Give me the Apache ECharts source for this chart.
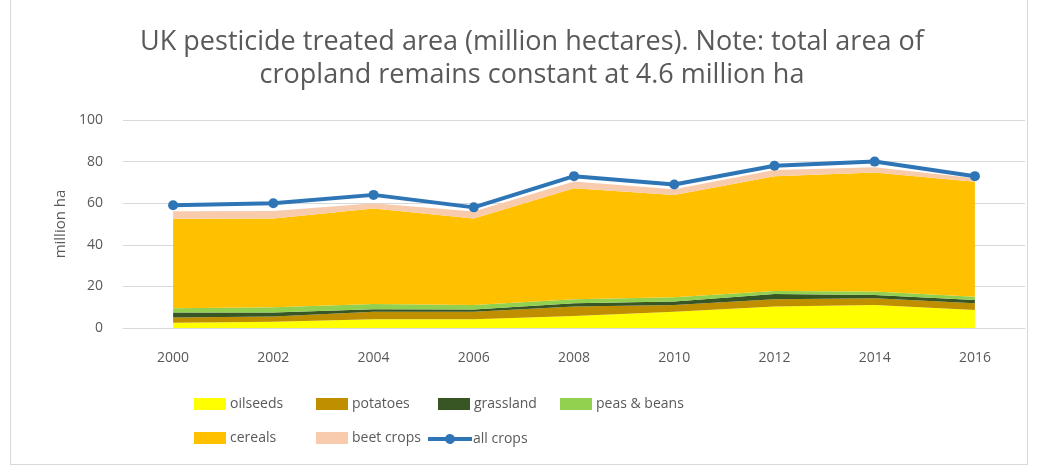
<!DOCTYPE html>
<html>
<head>
<meta charset="utf-8">
<script src="https://cdn.jsdelivr.net/npm/echarts@6/dist/echarts.min.js"></script>
<style>
  html, body { margin: 0; padding: 0; background: #fff; }
  #frame { position: absolute; left: 10px; top: -1px; width: 1018px; height: 466px; border: 1px solid #d9d9d9; box-sizing: border-box; }
  #chart { position: absolute; left: 0; top: 0; width: 1038px; height: 465px; }
</style>
</head>
<body>
<div id="frame"></div>
<div id="chart"></div>
<script>
const years = ['2000', '2002', '2004', '2006', '2008', '2010', '2012', '2014', '2016'];
const oilseeds = [2.5, 3.0, 4.2, 4.2, 5.8, 7.8, 10.3, 11.0, 8.7];
const potatoes = [2.6, 2.5, 3.6, 3.6, 4.5, 3.2, 3.5, 3.3, 3.2];
const grassland = [2.4, 1.9, 1.2, 1.1, 1.6, 1.7, 2.5, 1.6, 1.6];
const peasBeans = [2.0, 2.6, 2.5, 2.1, 1.9, 2.1, 1.5, 1.6, 1.5];
const cereals = [43.0, 42.7, 46.0, 41.7, 53.4, 49.2, 55.2, 57.2, 55.3];
const beetCrops = [3.6, 3.6, 2.5, 3.3, 3.2, 2.7, 3.0, 2.6, 1.7];
const allCrops = [59, 60, 64, 58, 73, 69, 78, 80, 73];
const yTicks = [0, 20, 40, 60, 80, 100];

const FONT = '"Open Sans", "Noto Sans", sans-serif';
const GREY = '#595959';

const areaNames = ['oilseeds', 'potatoes', 'grassland', 'peas & beans', 'cereals', 'beet crops'];
const areaData = [oilseeds, potatoes, grassland, peasBeans, cereals, beetCrops];
const areaColors = ['#FFFF00', '#BF8F00', '#375623', '#92D050', '#FFC000', '#F8CBAD'];

const series = areaNames.map((n, i) => ({
  name: n,
  type: 'line',
  stack: 'total',
  data: areaData[i],
  symbol: 'none',
  lineStyle: { width: 0 },
  areaStyle: { color: areaColors[i], opacity: 1 },
  itemStyle: { color: areaColors[i] },
  emphasis: { disabled: true },
  z: 2
}));
series.push({
  name: 'all crops',
  type: 'line',
  data: allCrops,
  symbol: 'circle',
  symbolSize: 10,
  lineStyle: { width: 4, color: '#2E75B6' },
  itemStyle: { color: '#2E75B6' },
  z: 5
});

const lineIcon = 'path://M0,4 L17.42,4 A5,5 0 0,1 26.58,4 L44,4 L44,8 L26.58,8 A5,5 0 0,1 17.42,8 L0,8 Z';
const legendPos = [
  ['oilseeds', 194, 397], ['potatoes', 316, 397], ['grassland', 438, 397], ['peas & beans', 560, 397],
  ['cereals', 194, 431], ['beet crops', 316, 431], ['all crops', 428, 432]
];
const legends = legendPos.map(([n, x, y]) => ({
  data: [n === 'all crops' ? { name: n, icon: lineIcon } : { name: n, icon: 'rect' }],
  left: x,
  top: y,
  padding: 0,
  itemWidth: n === 'all crops' ? 44 : 32,
  itemHeight: n === 'all crops' ? 10 : 12,
  itemGap: 0,
  selectedMode: false,
  textStyle: { color: GREY, fontSize: 14, fontFamily: FONT, padding: [0, 0, 0, n === 'all crops' ? -4 : -1] }
}));

const chart = echarts.init(document.getElementById('chart'), null, { renderer: 'canvas' });
chart.setOption({
  animation: false,
  backgroundColor: 'transparent',
  title: {
    text: 'UK pesticide treated area (million hectares). Note: total area of\ncropland remains constant at 4.6 million ha',
    left: 532,
    textAlign: 'center',
    top: 26,
    padding: 0,
    textStyle: { color: GREY, fontSize: 27, fontWeight: 'normal', fontFamily: FONT, lineHeight: 33 }
  },
  legend: legends,
  grid: { left: 123, right: 13, top: 120, bottom: 137, containLabel: false },
  xAxis: {
    type: 'category',
    data: years,
    boundaryGap: true,
    axisLine: { show: true, lineStyle: { color: '#d9d9d9', width: 1 } },
    axisTick: { show: false },
    axisLabel: { color: GREY, fontSize: 14, fontFamily: FONT, margin: 23 }
  },
  yAxis: {
    type: 'value',
    min: yTicks[0],
    max: yTicks[yTicks.length - 1],
    interval: 20,
    name: 'million ha',
    nameLocation: 'middle',
    nameGap: 51,
    nameTextStyle: { color: GREY, fontSize: 15, fontFamily: FONT },
    axisLine: { show: false },
    axisTick: { show: false },
    axisLabel: { color: GREY, fontSize: 14, fontFamily: FONT, margin: 20 },
    splitLine: { lineStyle: { color: '#d9d9d9', width: 1 } }
  },
  series: series
});
</script>
</body>
</html>
